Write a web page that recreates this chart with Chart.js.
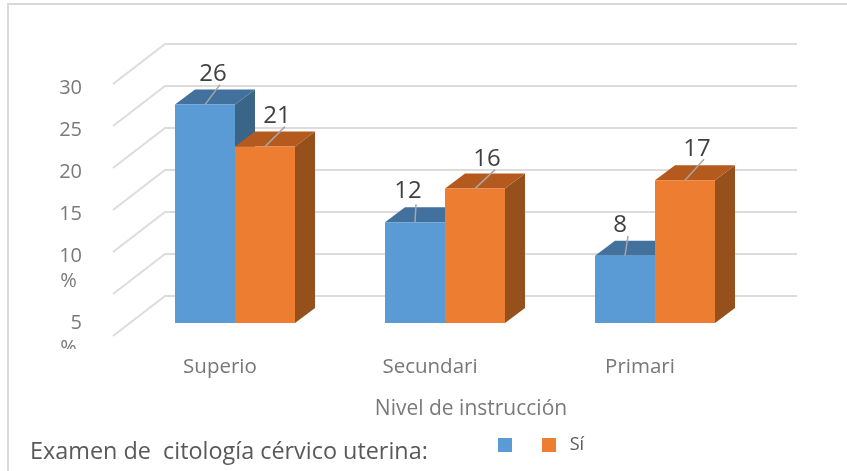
<!DOCTYPE html>
<html>
<head>
<meta charset="utf-8">
<script src="https://cdn.jsdelivr.net/npm/chart.js@4"></script>
<style>
  body { margin: 0; background: #fff; }
  canvas { filter: blur(0.4px); }
</style>
</head>
<body>
<canvas id="chart" width="847" height="471"></canvas>
<script>
const categories = ['Superio', 'Secundari', 'Primari']
const seriesLabels = ['', 'Sí']
const blueValues = [26, 12, 8]
const orangeValues = [21, 16, 17]
const tickLabels = ['', '5 %', '10 %', '15', '20', '25', '30']
const xAxisTitle = 'Nivel de instrucción'
const legendTitle = 'Examen de  citología cérvico uterina:'

const faceColors = [
  { top: '#41719c', side: '#3a6488' },
  { top: '#b55a1e', side: '#95501b' },
]
// desplazamiento de cada rótulo y de su línea guía, por serie y categoría
const labelShift = [
  [[8, -30], [-7, -31], [-5, -31]],
  [[12, -30], [12, -29], [12, -31]],
]
const leaderEnd = [
  [[15, -20], [1, -18], [3, -20]],
  [[20, -20], [20, -19], [19, -21]],
]

function fillPoly(ctx, pts, color) {
  ctx.fillStyle = color
  ctx.beginPath()
  pts.forEach((p, i) => (i ? ctx.lineTo(p[0], p[1]) : ctx.moveTo(p[0], p[1])))
  ctx.closePath()
  ctx.fill()
}

// paredes, caras 3D y rótulos
const fake3d = {
  id: 'fake3d',
  afterLayout(chart) {
    // leyenda junto al texto de abajo
    chart.legend.left = 477
    chart.legend.right = 700
    chart.legend.top = 415
  },
  beforeDatasetsDraw(chart) {
    const { ctx, scales } = chart
    ctx.save()
    // marco
    ctx.strokeStyle = '#d9d9d9'
    ctx.lineWidth = 2
    ctx.beginPath()
    ctx.moveTo(8, 471)
    ctx.lineTo(8, 4)
    ctx.lineTo(847, 4)
    ctx.stroke()
    // rejilla
    ctx.strokeStyle = '#dcdcdc'
    scales.y.ticks.forEach((t) => {
      const y = scales.y.getPixelForValue(t.value)
      ctx.beginPath()
      ctx.moveTo(113, y + 13)
      ctx.lineTo(165, y - 27)
      ctx.lineTo(797, y - 27)
      ctx.stroke()
    })
    // caras superior y lateral
    chart.data.datasets.forEach((ds, d) => {
      chart.getDatasetMeta(d).data.forEach((bar) => {
        const l = bar.x - bar.width / 2
        const r = bar.x + bar.width / 2
        const t = bar.y
        const b = bar.base
        fillPoly(ctx, [[r, t], [r + 20, t - 15], [r + 20, b - 15], [r, b]], faceColors[d].side)
        fillPoly(ctx, [[l, t], [l + 20, t - 15], [r + 20, t - 15], [r, t]], faceColors[d].top)
      })
    })
    ctx.restore()
  },
  afterDatasetsDraw(chart) {
    const { ctx } = chart
    ctx.save()
    ctx.textAlign = 'center'
    ctx.textBaseline = 'middle'
    chart.data.datasets.forEach((ds, d) => {
      chart.getDatasetMeta(d).data.forEach((bar, i) => {
        ctx.strokeStyle = '#a6a6a6'
        ctx.lineWidth = 1.5
        ctx.beginPath()
        ctx.moveTo(bar.x, bar.y)
        ctx.lineTo(bar.x + leaderEnd[d][i][0], bar.y + leaderEnd[d][i][1])
        ctx.stroke()
        ctx.fillStyle = '#404040'
        ctx.font = '24px "Open Sans"'
        ctx.fillText(ds.data[i], bar.x + labelShift[d][i][0], bar.y + labelShift[d][i][1])
      })
    })
    ctx.restore()
  },
  afterDraw(chart) {
    const { ctx } = chart
    ctx.save()
    // el último % queda cortado en el original
    ctx.fillStyle = '#fff'
    ctx.fillRect(50, 349, 45, 14)
    ctx.textBaseline = 'middle'
    ctx.fillStyle = '#7a7a7a'
    ctx.font = '21px "Open Sans"'
    ctx.textAlign = 'center'
    ctx.fillText(xAxisTitle, 471, 409)
    ctx.fillStyle = '#595959'
    ctx.font = '23.4px "Open Sans"'
    ctx.textAlign = 'left'
    ctx.fillText(legendTitle, 30, 452)
    ctx.restore()
  },
}

new Chart(document.getElementById('chart').getContext('2d'), {
  type: 'bar',
  data: {
    labels: categories,
    datasets: [
      { label: seriesLabels[0], data: blueValues, backgroundColor: '#5b9bd5' },
      { label: seriesLabels[1], data: orangeValues, backgroundColor: '#ed7d31' },
    ],
  },
  options: {
    responsive: false,
    animation: false,
    layout: { padding: { top: 71, right: 87 } },
    datasets: { bar: { categoryPercentage: 120 / 210, barPercentage: 1 } },
    plugins: {
      tooltip: { enabled: false },
      legend: {
        position: 'bottom',
        align: 'start',
        labels: {
          boxWidth: 14,
          boxHeight: 14,
          padding: 21,
          color: '#595959',
          font: { family: '"Open Sans"', size: 18 },
          generateLabels(chart) {
            return Chart.defaults.plugins.legend.labels.generateLabels(chart).map((item) => {
              if (item.text) item.text = ' ' + item.text
              return item
            })
          },
        },
      },
    },
    scales: {
      x: {
        grid: { display: false },
        border: { display: false },
        afterFit(scale) {
          scale.height = 99
        },
        ticks: {
          autoSkip: false,
          maxRotation: 0,
          padding: 24,
          labelOffset: -15,
          color: '#777',
          font: { family: '"Open Sans"', size: 20.5 },
        },
      },
      y: {
        min: 0,
        max: 30,
        grid: { display: false },
        border: { display: false },
        afterFit(scale) {
          scale.width = 130
        },
        ticks: {
          autoSkip: false,
          stepSize: 5,
          padding: 40,
          labelOffset: 17.5,
          color: '#7a7a7a',
          font: { family: '"Open Sans"', size: 20, lineHeight: 1.25 },
          callback(value, index) {
            const text = tickLabels[index]
            if (text === '10 %') return ['', '10', '% ']
            if (text === '5 %') return ['', '', '', '5', '% ']
            return text
          },
        },
      },
    },
  },
  plugins: [fake3d],
})
</script>
</body>
</html>
